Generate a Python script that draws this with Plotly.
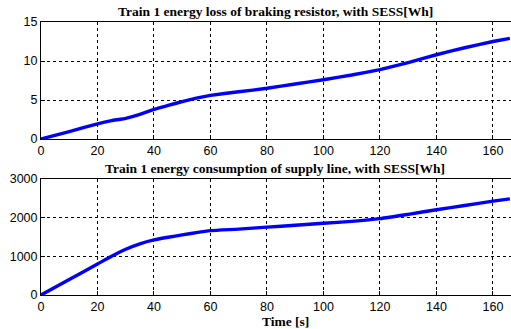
import plotly.graph_objects as go
from plotly.subplots import make_subplots

# Time samples [s]
t = [0, 10, 20, 25, 30, 35, 40, 45, 50, 55, 60, 70, 80, 90, 100, 110, 120, 130, 140, 150, 160, 166]
# Energy loss of braking resistor [Wh]
loss = [0, 0.95, 1.95, 2.35, 2.65, 3.15, 3.8, 4.3, 4.8, 5.25, 5.6, 6.05, 6.5, 7.05, 7.6, 8.2, 8.9, 9.8, 10.8, 11.7, 12.5, 12.9]
# Energy consumption of supply line [Wh]
supply = [0, 400, 800, 1000, 1180, 1320, 1420, 1490, 1550, 1610, 1660, 1700, 1750, 1800, 1850, 1900, 1970, 2080, 2200, 2310, 2420, 2480]

x_ticks = [0, 20, 40, 60, 80, 100, 120, 140, 160]

fig = make_subplots(rows=2, cols=1, vertical_spacing=0.0)
fig.add_trace(go.Scatter(x=t, y=loss, mode="lines", line_shape="spline",
                         line=dict(color="#0000ff", width=3.4, smoothing=0.3)), row=1, col=1)
fig.add_trace(go.Scatter(x=t, y=supply, mode="lines", line_shape="spline",
                         line=dict(color="#0000ff", width=3.4, smoothing=0.6)), row=2, col=1)

tick_font = dict(family="Liberation Sans, Arial, sans-serif", size=12.5, color="black")
axis_common = dict(showline=True, linecolor="black", linewidth=1,
                   showgrid=True, gridcolor="black", griddash="dot", gridwidth=1,
                   ticks="inside", ticklen=4, tickcolor="black",
                   tickfont=tick_font, zeroline=False)

fig.update_xaxes(range=[0, 166.4], tickvals=x_ticks, mirror=True, **axis_common)
fig.update_yaxes(**axis_common)
fig.update_yaxes(range=[0, 15], tickvals=[0, 5, 10, 15], row=1, col=1)
fig.update_yaxes(range=[0, 3000], tickvals=[0, 1000, 2000, 3000], row=2, col=1)

fig.update_layout(
    xaxis=dict(domain=[0, 1]),
    yaxis=dict(domain=[0.5714, 1.0]),
    yaxis2=dict(domain=[0.0, 0.426]),
)

title_font = dict(family="Liberation Serif, Times New Roman, serif", size=13.5, color="black")
fig.add_annotation(text="<b>Train 1 energy loss of braking resistor, with SESS[Wh]</b>",
                   x=(275 - 41) / 470, xref="paper", y=1.0, yref="paper", yshift=1,
                   showarrow=False, font=title_font, yanchor="bottom")
fig.add_annotation(text="<b>Train 1 energy consumption of supply line, with SESS[Wh]</b>",
                   x=(275 - 41) / 470, xref="paper", y=0.426, yref="paper", yshift=1,
                   showarrow=False, font=title_font, yanchor="bottom")
fig.add_annotation(text="<b>Time [s]</b>",
                   x=(285 - 41) / 470, xref="paper", y=0, yref="paper", yshift=-26,
                   showarrow=False, font=title_font, yanchor="middle", borderpad=0)

fig.update_layout(
    width=511, height=329,
    margin=dict(l=41, r=0, t=22, b=34),
    showlegend=False,
    plot_bgcolor="white", paper_bgcolor="white",
)

fig.write_html("out.html")
